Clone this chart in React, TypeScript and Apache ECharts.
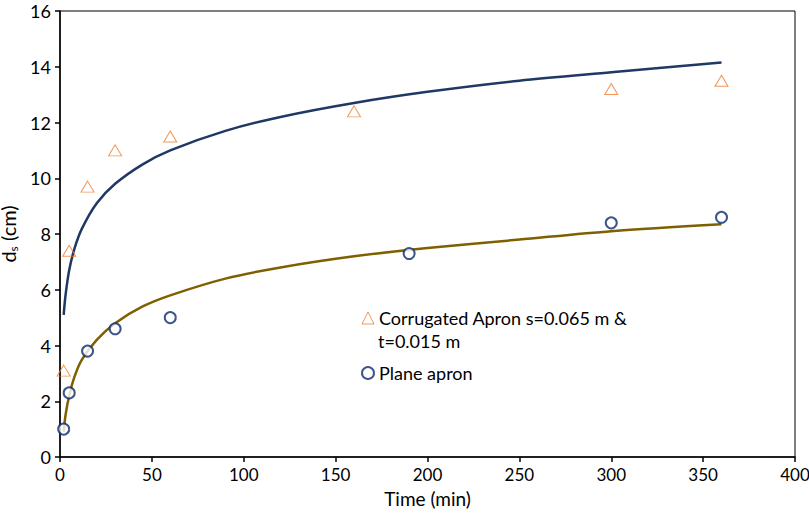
import React, { useEffect, useRef } from "react";
import * as echarts from "echarts";

const corrTime = [2, 5, 15, 30, 60, 160, 300, 360];
const corrDepth = [3.1, 7.4, 9.7, 11.0, 11.5, 12.4, 13.2, 13.5];
const planeTime = [2, 5, 15, 30, 60, 190, 300, 360];
const planeDepth = [1.0, 2.3, 3.8, 4.6, 5.0, 7.3, 8.4, 8.6];

const trendTime = [2, 3, 5, 8, 12, 20, 30, 45, 60, 90, 120, 160, 200, 250, 300, 360];
const corrTrend = [5.1, 5.8, 6.7, 7.5, 8.2, 9.1, 9.8, 10.5, 11.0, 11.7, 12.2, 12.7, 13.1, 13.5, 13.8, 14.15];
const planeTrend = [0.9, 1.5, 2.2, 2.9, 3.5, 4.2, 4.8, 5.4, 5.8, 6.4, 6.8, 7.2, 7.5, 7.8, 8.1, 8.35];

const corrName = "Corrugated Apron s=0.065 m & t=0.015 m";
const planeName = "Plane apron";

const zip = (xs: number[], ys: number[]) => xs.map((x, i) => [x, ys[i]]);

export default function App() {
  const ref = useRef<HTMLDivElement>(null);
  useEffect(() => {
    document.body.style.margin = "0";
    document.body.style.overflow = "hidden";
    if (!ref.current) return;
    const chart = echarts.init(ref.current, null, { renderer: "svg" });
    const font = "Lato, 'Open Sans', sans-serif";
    chart.setOption({
      animation: false,
      textStyle: { fontFamily: font },
      grid: {
        left: 60,
        right: 14,
        top: 11,
        bottom: 62,
        outerBoundsMode: "none",
        containLabel: false,
        show: true,
        borderColor: "#000",
        borderWidth: 1,
      },
      xAxis: {
        type: "value",
        min: 0,
        max: 400,
        interval: 50,
        name: "Time (min)",
        nameLocation: "middle",
        nameGap: 32,
        nameTextStyle: { fontSize: 19, color: "#000", fontFamily: font },
        axisLine: { lineStyle: { color: "#000", width: 1.5 } },
        axisTick: { show: true, length: 5, lineStyle: { color: "#000", width: 1.5 } },
        axisLabel: { fontSize: 17, color: "#000", margin: 9, fontFamily: font },
        splitLine: { show: false },
      },
      yAxis: {
        type: "value",
        min: 0,
        max: 16,
        interval: 2,
        name: "{a|d}{b|s}{a| (cm)}",
        nameLocation: "middle",
        nameGap: 30,
        nameTextStyle: {
          color: "#000",
          rich: {
            a: { fontSize: 20, lineHeight: 22, color: "#000", fontFamily: font },
            b: { fontSize: 12, lineHeight: 22, verticalAlign: "bottom", color: "#000", fontFamily: font },
          },
        },
        axisLine: { show: true, lineStyle: { color: "#000", width: 1.5 } },
        axisTick: { show: true, length: 5, lineStyle: { color: "#000", width: 1.5 } },
        axisLabel: { fontSize: 18, color: "#000", margin: 9, fontFamily: font },
        splitLine: { show: false },
      },
      legend: {
        orient: "vertical",
        left: 361,
        top: 309,
        padding: 0,
        itemWidth: 12,
        itemHeight: 12,
        itemGap: 37,
        data: [corrName, planeName],
        itemStyle: { borderWidth: 1 },
        formatter: (n: string) => (n === corrName ? "Corrugated Apron s=0.065 m &" : n),
        textStyle: { fontSize: 18, lineHeight: 18, color: "#000", fontFamily: font },
      },
      graphic: [
        {
          type: "text",
          left: 378,
          top: 332,
          style: { text: "t=0.015 m", fontSize: 18, lineHeight: 18, fill: "#000", fontFamily: font },
        },
      ],
      series: [
        {
          type: "line",
          data: zip(trendTime, corrTrend),
          smooth: 0.3,
          showSymbol: false,
          lineStyle: { color: "#203864", width: 2.5 },
          itemStyle: { color: "#203864" },
          silent: true,
          z: 2,
        },
        {
          type: "line",
          data: zip(trendTime, planeTrend),
          smooth: 0.3,
          showSymbol: false,
          lineStyle: { color: "#7F6000", width: 2.5 },
          itemStyle: { color: "#7F6000" },
          silent: true,
          z: 2,
        },
        {
          name: corrName,
          type: "scatter",
          data: zip(corrTime, corrDepth),
          symbol: "triangle",
          symbolSize: [13, 11],
          itemStyle: { color: "rgba(255,255,255,0)", borderColor: "#ED7D31", borderWidth: 1 },
          z: 3,
        },
        {
          name: planeName,
          type: "scatter",
          data: zip(planeTime, planeDepth),
          symbol: "emptyCircle",
          symbolSize: 11,
          itemStyle: { color: "#0D2A6B", borderColor: "#0D2A6B", borderWidth: 2 },
          z: 3,
        },
      ],
    });
    return () => chart.dispose();
  }, []);
  return <div ref={ref} style={{ width: 809, height: 519 }} />;
}
